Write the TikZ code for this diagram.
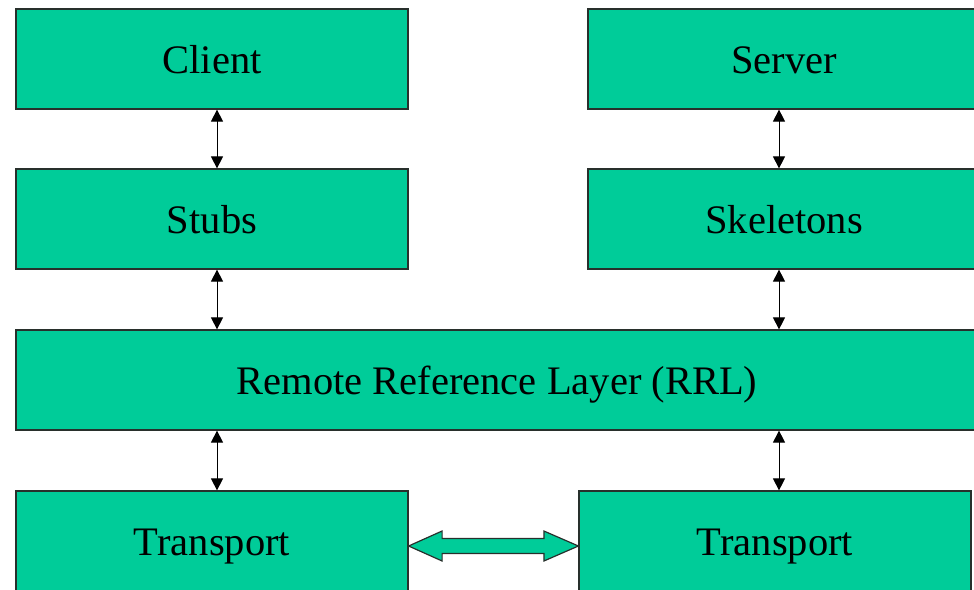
\documentclass[tikz,border=0pt]{standalone}
\usepackage{fontspec}
\setmainfont{Liberation Serif}
\usetikzlibrary{arrows.meta,calc}
\definecolor{layergreen}{RGB}{0,204,153}
\definecolor{layeredge}{RGB}{40,48,44}
\tikzset{
  layer/.style={draw=layeredge, line width=1.2pt, fill=layergreen,
    minimum height=100pt, inner sep=0pt, text height=28pt, text depth=0pt,
    font=\fontsize{40.5}{48}\selectfont},
  link/.style={draw=black, line width=0.9pt, {Triangle[length=12pt,width=12pt]}-{Triangle[length=12pt,width=12pt]}},
  wire/.style={draw=layeredge, line width=1.2pt, fill=layergreen}
}
\begin{document}
\begin{tikzpicture}[x=1pt, y=-1pt]
\useasboundingbox (0,0) rectangle (974,589);
\clip (0,0) rectangle (974,589);
% client side stack
\node[layer, minimum width=392pt] (client) at (212,59) {Client};
\node[layer, minimum width=392pt] (stubs)  at (212,219) {Stubs};
% server side stack
\node[layer, minimum width=392pt] (server)    at (784,59) {Server};
\node[layer, minimum width=392pt] (skeletons) at (784,219) {Skeletons};
% shared reference layer
\node[layer, minimum width=962pt] (rrl) at (497,380) {Remote Reference Layer (RRL)};
% transports
\node[layer, minimum width=392pt] (tleft)  at (212,541) {Transport};
\node[layer, minimum width=392pt] (tright) at (775,541) {Transport};
% columns of the vertical links
\coordinate (colL) at (217,0);
\coordinate (colR) at (779,0);
% vertical links
\draw[link] (client.south -| colL) -- (stubs.north -| colL);
\draw[link] (stubs.south -| colL) -- (rrl.north -| colL);
\draw[link] (rrl.south -| colL) -- (tleft.north -| colL);
\draw[link] (server.south -| colR) -- (skeletons.north -| colR);
\draw[link] (skeletons.south -| colR) -- (rrl.north -| colR);
\draw[link] (rrl.south -| colR) -- (tright.north -| colR);
% block arrow between the two transports
\coordinate (pl) at ([yshift=-5pt]tleft.east);
\coordinate (pr) at ([yshift=-5pt]tright.west);
\draw[wire] (pl) -- ++(33.5,-15) -- ++(0,7.5) -- ($(pr)+(-34.5,-7.5)$) -- ++(0,-7.5) -- (pr)
  -- ++(-34.5,15) -- ++(0,-7.5) -- ($(pl)+(33.5,7.5)$) -- ++(0,7.5) -- cycle;
\end{tikzpicture}
\end{document}
